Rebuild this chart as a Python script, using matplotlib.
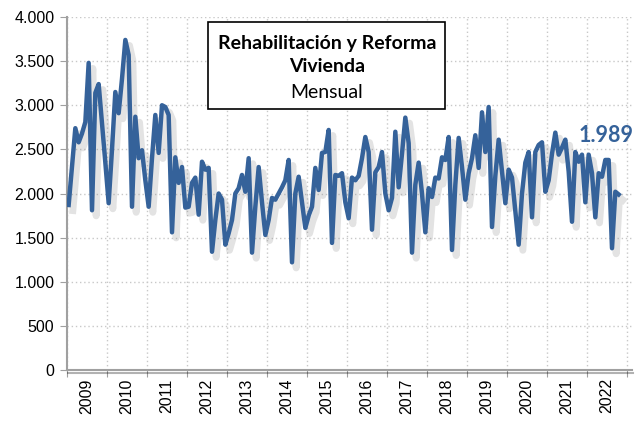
import numpy as np
import matplotlib
matplotlib.use("Agg")
import matplotlib.pyplot as plt
import matplotlib.patheffects as pe
from matplotlib.ticker import FuncFormatter, FixedLocator

# monthly values, Jan 2009 .. Oct 2022
v2009 = [1870, 2300, 2740, 2580, 2680, 2810, 3480, 1810, 3140, 3240, 2800, 2350]
v2010 = [1890, 2500, 3150, 2910, 3300, 3740, 3570, 1850, 2870, 2400, 2490, 2150]
v2011 = [1850, 2400, 2890, 2460, 3000, 2980, 2890, 1560, 2410, 2120, 2300, 1840]
v2012 = [1850, 2120, 2180, 1760, 2360, 2270, 2290, 1340, 1700, 2000, 1930, 1420]
v2013 = [1550, 1700, 2000, 2060, 2210, 2020, 2400, 1330, 1850, 2300, 1900, 1530]
v2014 = [1700, 1950, 1930, 2000, 2070, 2150, 2380, 1220, 2000, 2190, 1900, 1610]
v2015 = [1750, 1850, 2290, 2040, 2460, 2470, 2720, 1440, 2210, 2200, 2230, 1900]
v2016 = [1720, 2180, 2150, 2200, 2400, 2640, 2470, 1590, 2240, 2300, 2470, 2000]
v2017 = [1810, 1950, 2700, 2070, 2450, 2860, 2570, 1330, 2100, 2350, 2000, 1560]
v2018 = [2060, 1960, 2180, 2170, 2410, 2380, 2640, 1360, 2100, 2630, 2300, 1930]
v2019 = [2230, 2400, 2660, 2290, 2920, 2470, 2980, 1620, 2200, 2610, 2250, 1890]
v2020 = [2270, 2180, 1800, 1420, 2000, 2350, 2470, 1730, 2470, 2550, 2580, 2020]
v2021 = [2150, 2450, 2690, 2440, 2520, 2610, 2250, 1680, 2470, 2360, 2440, 1900]
v2022 = [2440, 2230, 1730, 2230, 2190, 2380, 2380, 1380, 2020, 1989]

values = (v2009 + v2010 + v2011 + v2012 + v2013 + v2014 + v2015 + v2016
          + v2017 + v2018 + v2019 + v2020 + v2021 + v2022)
years = [str(y) for y in range(2009, 2023)]
title_lines = ["Rehabilitación y Reforma", "Vivienda", "Mensual"]
last_label = "1.989"

blue = "#35629A"

fig = plt.figure(figsize=(6.39, 4.21), dpi=100)
ax = fig.add_axes([67 / 639, 51 / 421, 565 / 639, 353 / 421])

x = np.arange(len(values))
ax.plot(x, values, color=blue, lw=3.2, solid_joinstyle="round", zorder=3,
        path_effects=[pe.SimpleLineShadow(offset=(3, -4), shadow_color="#909090", alpha=0.25,
                                          linewidth=5),
                      pe.Normal()])

ax.set_ylim(0, 4000)
ax.set_xlim(-0.5, 169)
ax.yaxis.set_major_locator(FixedLocator(np.arange(0, 4001, 500)))
ax.yaxis.set_major_formatter(FuncFormatter(lambda v, p: "{:,.0f}".format(v).replace(",", ".")))

# year boundaries as major ticks, labels in between
ax.set_xticks([12 * i - 0.5 for i in range(len(years) + 1)])
ax.set_xticklabels([])
ax.set_xticks([12 * i + 5.5 for i in range(len(years))], minor=True)
ax.set_xticklabels(years, minor=True, rotation=90, fontsize=11.5, family="Liberation Sans")
ax.tick_params(axis="x", which="minor", length=0, pad=6)
ax.tick_params(axis="x", which="major", length=5, color="#a0a0a0")
ax.tick_params(axis="y", length=5, color="#a0a0a0", labelsize=11.5, pad=4)
for lab in ax.get_yticklabels():
    lab.set_family("Liberation Sans")

ax.grid(True, which="major", color="#c8c8c8", linestyle=(0, (1, 2)), lw=1)
ax.set_axisbelow(True)
for s in ["top", "right"]:
    ax.spines[s].set_visible(False)
for s in ["left", "bottom"]:
    ax.spines[s].set_color("#a0a0a0")
    ax.spines[s].set_linewidth(1.5)
ax.spines["bottom"].set_path_effects([pe.SimpleLineShadow(offset=(1, -2), alpha=0.3), pe.Normal()])

# title box
box = plt.Rectangle((208 / 639, 1 - 109 / 421), 237 / 639, 87 / 421,
                    transform=fig.transFigure, facecolor="white", edgecolor="black",
                    lw=1.2, zorder=5, clip_on=False)
ax.add_patch(box)
cx = 327 / 639
ax.text(cx, 1 - 44 / 421, title_lines[0], transform=fig.transFigure, ha="center",
        va="center", fontsize=14, fontweight="bold", family="Lato", zorder=6)
ax.text(cx, 1 - 67 / 421, title_lines[1], transform=fig.transFigure, ha="center",
        va="center", fontsize=14, fontweight="bold", family="Lato", zorder=6)
ax.text(cx, 1 - 92 / 421, title_lines[2], transform=fig.transFigure, ha="center",
        va="center", fontsize=14, family="Lato", zorder=6)

ax.annotate(last_label, xy=(x[-1], values[-1]), xytext=(606 / 639, 1 - 135 / 421),
            textcoords="figure fraction", ha="center", va="center", fontsize=15.5,
            fontweight="bold", color=blue, family="Lato")

fig.savefig("out.png", dpi=100)
